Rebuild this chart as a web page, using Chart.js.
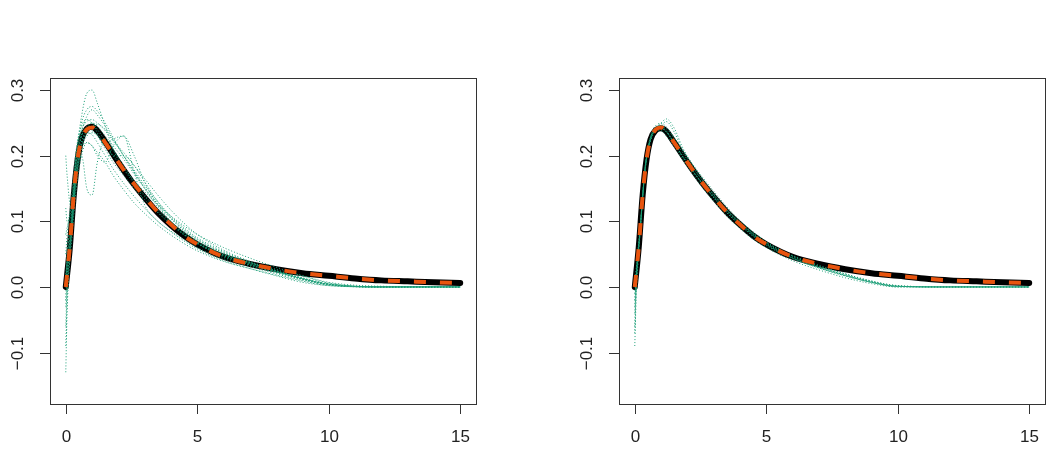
<!DOCTYPE html>
<html>
<head>
<meta charset="utf-8">
<script src="https://cdn.jsdelivr.net/npm/chart.js@4"></script>
<style>
  html, body { margin: 0; padding: 0; background: #fff; }
  body { width: 1051px; height: 474px; position: relative; overflow: hidden; }
  canvas { position: absolute; top: 0; }
</style>
</head>
<body>
<canvas id="leftChart" width="526" height="474" style="left:0px"></canvas>
<canvas id="rightChart" width="482" height="474" style="left:569px"></canvas>
<script>
// axis ticks
const X_TICKS = [0, 5, 10, 15];
const Y_TICKS = [-0.1, 0, 0.1, 0.2, 0.3];
const Y_TICK_LABELS = ['\u22120.1', '0.0', '0.1', '0.2', '0.3'];

// time grid for the mean / truth curves
const T_MEAN = [0, 0.15, 0.3, 0.45, 0.6, 0.8, 1.0, 1.2, 1.5, 2.0, 2.5, 3.0, 3.5, 4.0, 4.5, 5.0, 6.0, 7.0, 8.0, 9.0, 10, 11, 12, 13, 14, 15];
const TRUE_CURVE = [0, 0.06, 0.14, 0.195, 0.225, 0.240, 0.243, 0.237, 0.220, 0.190, 0.162, 0.137, 0.114, 0.095, 0.078, 0.065, 0.046, 0.035, 0.027, 0.021, 0.017, 0.013, 0.010, 0.0085, 0.007, 0.006];
const MEAN_LEFT = [0, 0.058, 0.138, 0.194, 0.226, 0.241, 0.244, 0.238, 0.221, 0.190, 0.161, 0.136, 0.113, 0.094, 0.078, 0.065, 0.046, 0.035, 0.027, 0.021, 0.017, 0.013, 0.010, 0.0085, 0.007, 0.006];
const MEAN_RIGHT = [0, 0.060, 0.140, 0.195, 0.225, 0.239, 0.242, 0.237, 0.220, 0.190, 0.162, 0.137, 0.114, 0.095, 0.078, 0.065, 0.046, 0.035, 0.027, 0.021, 0.017, 0.013, 0.010, 0.0085, 0.007, 0.006];

// time grid for the individual (green) estimates
const T_EST = [0, 0.05, 0.2, 0.4, 0.6, 0.8, 1.0, 1.2, 1.5, 1.8, 2.2, 2.6, 3.0, 3.5, 4, 4.5, 5, 6, 7, 8, 9, 10, 12, 15];

const EST_LEFT = [
  [0.0, 0.05, 0.10, 0.19, 0.235, 0.26, 0.27, 0.262, 0.245, 0.225, 0.2, 0.178, 0.155, 0.13, 0.108, 0.09, 0.075, 0.054, 0.038, 0.024, 0.012, 0.003, 0, 0],
  [0.0, 0.03, 0.09, 0.20, 0.26, 0.295, 0.30, 0.28, 0.245, 0.21, 0.18, 0.158, 0.138, 0.115, 0.096, 0.080, 0.067, 0.048, 0.034, 0.022, 0.012, 0.004, 0, 0],
  [-0.02, 0.04, 0.10, 0.17, 0.20, 0.15, 0.14, 0.19, 0.225, 0.21, 0.185, 0.16, 0.14, 0.118, 0.098, 0.08, 0.066, 0.046, 0.033, 0.022, 0.012, 0.004, 0, 0],
  [0.20, 0.17, 0.12, 0.18, 0.22, 0.24, 0.25, 0.245, 0.23, 0.215, 0.195, 0.172, 0.150, 0.125, 0.104, 0.086, 0.072, 0.052, 0.037, 0.025, 0.014, 0.005, 0, 0],
  [-0.13, -0.04, 0.07, 0.17, 0.22, 0.235, 0.232, 0.22, 0.2, 0.18, 0.158, 0.138, 0.12, 0.1, 0.084, 0.07, 0.058, 0.04, 0.028, 0.017, 0.007, 0.002, 0, 0],
  [-0.06, 0.0, 0.08, 0.18, 0.23, 0.245, 0.25, 0.24, 0.222, 0.2, 0.2, 0.185, 0.16, 0.13, 0.105, 0.085, 0.07, 0.05, 0.036, 0.024, 0.013, 0.004, 0, 0],
  [0.05, 0.08, 0.13, 0.21, 0.245, 0.255, 0.25, 0.235, 0.215, 0.225, 0.23, 0.175, 0.125, 0.1, 0.085, 0.072, 0.06, 0.043, 0.031, 0.02, 0.01, 0.003, 0, 0],
  [0.0, 0.01, 0.07, 0.16, 0.21, 0.23, 0.235, 0.232, 0.218, 0.2, 0.18, 0.162, 0.145, 0.125, 0.108, 0.093, 0.08, 0.06, 0.044, 0.03, 0.017, 0.006, 0, 0],
  [-0.09, -0.02, 0.06, 0.15, 0.2, 0.22, 0.215, 0.205, 0.19, 0.17, 0.148, 0.128, 0.112, 0.094, 0.079, 0.066, 0.055, 0.039, 0.028, 0.018, 0.009, 0.002, 0, 0],
  [0.12, 0.1, 0.11, 0.2, 0.25, 0.27, 0.275, 0.268, 0.25, 0.228, 0.2, 0.175, 0.152, 0.127, 0.106, 0.088, 0.073, 0.052, 0.037, 0.024, 0.013, 0.004, 0, 0],
  [0.02, 0.04, 0.09, 0.19, 0.23, 0.24, 0.238, 0.23, 0.21, 0.19, 0.17, 0.15, 0.133, 0.113, 0.095, 0.079, 0.066, 0.049, 0.037, 0.027, 0.017, 0.007, 0.001, 0],
  [-0.03, 0.02, 0.08, 0.17, 0.215, 0.235, 0.245, 0.248, 0.24, 0.225, 0.2, 0.175, 0.15, 0.122, 0.1, 0.082, 0.067, 0.047, 0.034, 0.023, 0.012, 0.004, 0, 0],
  [0.0, 0.02, 0.08, 0.17, 0.21, 0.22, 0.215, 0.2, 0.19, 0.215, 0.23, 0.2, 0.16, 0.125, 0.1, 0.083, 0.069, 0.049, 0.035, 0.023, 0.012, 0.004, 0, 0],
  [0.08, 0.09, 0.12, 0.2, 0.24, 0.252, 0.255, 0.25, 0.238, 0.222, 0.205, 0.185, 0.165, 0.14, 0.117, 0.097, 0.08, 0.056, 0.039, 0.025, 0.013, 0.004, 0, 0]
];

const EST_RIGHT = [
  [0, 0.025, 0.09, 0.185, 0.228, 0.243, 0.246, 0.241, 0.228, 0.21, 0.187, 0.166, 0.146, 0.122, 0.101, 0.084, 0.069, 0.047, 0.031, 0.018, 0.007, 0, 0, 0],
  [-0.09, -0.02, 0.08, 0.18, 0.225, 0.24, 0.243, 0.238, 0.22, 0.2, 0.177, 0.156, 0.136, 0.113, 0.094, 0.077, 0.063, 0.043, 0.029, 0.017, 0.007, 0.001, 0, 0],
  [-0.04, 0.01, 0.085, 0.182, 0.226, 0.242, 0.25, 0.256, 0.242, 0.214, 0.186, 0.163, 0.142, 0.118, 0.098, 0.081, 0.066, 0.044, 0.029, 0.017, 0.007, 0.001, 0, 0],
  [-0.02, 0.015, 0.088, 0.18, 0.222, 0.238, 0.242, 0.236, 0.219, 0.2, 0.177, 0.157, 0.138, 0.116, 0.097, 0.081, 0.067, 0.047, 0.032, 0.02, 0.009, 0.002, 0, 0],
  [-0.06, 0.0, 0.082, 0.183, 0.226, 0.238, 0.238, 0.23, 0.214, 0.195, 0.172, 0.15, 0.131, 0.108, 0.089, 0.073, 0.06, 0.04, 0.026, 0.014, 0.005, 0, 0, 0],
  [0, 0.02, 0.086, 0.184, 0.227, 0.241, 0.244, 0.237, 0.22, 0.201, 0.178, 0.156, 0.137, 0.114, 0.095, 0.079, 0.066, 0.046, 0.031, 0.019, 0.008, 0.001, 0, 0],
  [-0.07, -0.01, 0.084, 0.182, 0.225, 0.24, 0.246, 0.252, 0.236, 0.21, 0.183, 0.161, 0.14, 0.117, 0.097, 0.08, 0.065, 0.044, 0.029, 0.017, 0.007, 0.001, 0, 0],
  [-0.01, 0.02, 0.087, 0.182, 0.224, 0.239, 0.241, 0.236, 0.218, 0.199, 0.176, 0.155, 0.136, 0.113, 0.094, 0.078, 0.064, 0.044, 0.03, 0.018, 0.008, 0.001, 0, 0],
  [-0.03, 0.01, 0.086, 0.186, 0.23, 0.246, 0.249, 0.244, 0.226, 0.206, 0.182, 0.161, 0.141, 0.118, 0.099, 0.082, 0.068, 0.048, 0.033, 0.02, 0.009, 0.002, 0, 0]
];

const GREEN = '#1B9E77';
const ORANGE = '#E8540E';
const FONT = '17px "Liberation Sans", Arial, sans-serif';

function toPoints(xs, ys) {
  return xs.map((x, i) => ({ x: x, y: ys[i] }));
}

// R-style box + axes, drawn from the chart's own scales
const rAxes = {
  id: 'rAxes',
  afterDraw(chart) {
    const ctx = chart.ctx;
    const a = chart.chartArea;
    const sx = chart.scales.x;
    const sy = chart.scales.y;
    ctx.save();
    ctx.strokeStyle = '#333';
    ctx.lineWidth = 1;
    ctx.strokeRect(Math.round(a.left) + 0.5, Math.round(a.top) + 0.5,
                   Math.round(a.right - a.left), Math.round(a.bottom - a.top));
    ctx.fillStyle = '#222';
    ctx.font = FONT;

    // x axis
    ctx.textAlign = 'center';
    ctx.textBaseline = 'middle';
    X_TICKS.forEach(v => {
      const px = Math.round(sx.getPixelForValue(v)) + 0.5;
      ctx.beginPath();
      ctx.moveTo(px, a.bottom);
      ctx.lineTo(px, a.bottom + 10);
      ctx.stroke();
      ctx.fillText(String(v), px, a.bottom + 33);
    });

    // y axis (labels rotated like R)
    Y_TICKS.forEach((v, i) => {
      const py = Math.round(sy.getPixelForValue(v)) + 0.5;
      ctx.beginPath();
      ctx.moveTo(a.left, py);
      ctx.lineTo(a.left - 10, py);
      ctx.stroke();
      ctx.save();
      ctx.translate(a.left - 32, py);
      ctx.rotate(-Math.PI / 2);
      ctx.fillText(Y_TICK_LABELS[i], 0, 0);
      ctx.restore();
    });
    ctx.restore();
  }
};

function makePanel(canvasId, estimates, meanVals, rightPad) {
  // lower "order" is drawn on top in Chart.js
  const datasets = [];
  datasets.push({
    data: toPoints(T_MEAN, TRUE_CURVE),
    order: 0,
    borderColor: ORANGE,
    borderWidth: 4,
    borderDash: [12, 14],
    pointRadius: 0,
    cubicInterpolationMode: 'monotone',
    fill: false
  });
  estimates.forEach(vals => datasets.push({
    data: toPoints(T_EST, vals),
    order: 1,
    borderColor: GREEN,
    borderWidth: 1,
    borderDash: [1, 2],
    pointRadius: 0,
    cubicInterpolationMode: 'monotone',
    fill: false
  }));
  datasets.push({
    data: toPoints(T_MEAN, meanVals),
    order: 2,
    borderColor: '#000',
    borderWidth: 6,
    borderCapStyle: 'round',
    borderJoinStyle: 'round',
    pointRadius: 0,
    cubicInterpolationMode: 'monotone',
    fill: false
  });

  new Chart(document.getElementById(canvasId), {
    type: 'line',
    data: { datasets: datasets },
    options: {
      responsive: false,
      animation: false,
      events: [],
      layout: { padding: { left: 50, top: 78, right: rightPad, bottom: 70 } },
      plugins: { legend: { display: false }, tooltip: { enabled: false } },
      scales: {
        x: { type: 'linear', min: -0.6, max: 15.6, display: false },
        y: { type: 'linear', min: -0.1784, max: 0.3184, display: false }
      }
    },
    plugins: [rAxes]
  });
}

makePanel('leftChart', EST_LEFT, MEAN_LEFT, 50);
makePanel('rightChart', EST_RIGHT, MEAN_RIGHT, 6);
</script>
</body>
</html>
